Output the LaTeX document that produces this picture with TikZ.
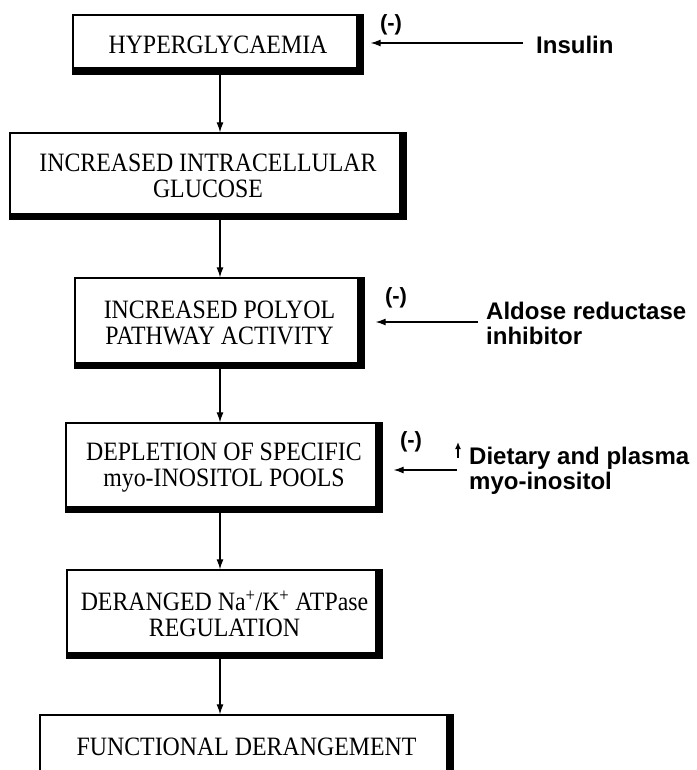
\documentclass[tikz,border=0pt]{standalone}
\usepackage{fontspec}
\setmainfont{Liberation Serif}
\newfontfamily\boxfont{Liberation Serif}[FakeStretch=0.9]
\newfontfamily\labelfont{Liberation Sans}
\usetikzlibrary{arrows.meta}
\begin{document}
\begin{tikzpicture}[x=1pt,y=-1pt,
  flowbox/.style={draw=black, line width=1.3pt, inner sep=0pt, align=center,
    font=\boxfont\fontsize{26.5}{26.5}\selectfont,
    path picture={
      \fill[black] ([xshift=-7pt]path picture bounding box.north east) rectangle (path picture bounding box.south east);
      \fill[black] ([yshift=6.5pt]path picture bounding box.south west) rectangle (path picture bounding box.south east);
    }},
  sidelabel/.style={inner sep=0pt, anchor=west, align=left,
    font=\labelfont\bfseries\fontsize{24}{25}\selectfont},
  minus/.style={inner sep=0pt, font=\labelfont\bfseries\fontsize{22}{24}\selectfont},
  arr/.style={line width=1.2pt, -{Latex[length=10pt,width=7pt]}}
]
\useasboundingbox (0,0) rectangle (696,770);

% main chain boxes
\node[flowbox, minimum width=290pt, minimum height=59pt] (b1) at (218,44.5) {HYPERGLYCAEMIA};
\node[flowbox, minimum width=396pt, minimum height=86pt] (b2) at (208,176) {INCREASED INTRACELLULAR\\GLUCOSE};
\node[flowbox, minimum width=289pt, minimum height=90pt] (b3) at (219.5,323) {INCREASED POLYOL\\PATHWAY ACTIVITY};
\node[flowbox, minimum width=316pt, minimum height=89pt] (b4) at (224,467.5) {DEPLETION OF SPECIFIC\\myo-INOSITOL POOLS};
\node[flowbox, minimum width=315pt, minimum height=88pt] (b5) at (224.5,614) {DERANGED Na\textsuperscript{+}/K\textsuperscript{+} ATPase\\REGULATION};
\node[flowbox, minimum width=413pt, minimum height=64pt] (b6) at (246.5,747) {FUNCTIONAL DERANGEMENT};

% spine of vertical arrows
\coordinate (spine) at (220,0);
\draw[arr] (b1.south -| spine) -- (b2.north -| spine);
\draw[arr] (b2.south -| spine) -- (b3.north -| spine);
\draw[arr] (b3.south -| spine) -- (b4.north -| spine);
\draw[arr] (b4.south -| spine) -- (b5.north -| spine);
\draw[arr] (b5.south -| spine) -- (b6.north -| spine);

% side inputs
\node[minus] (m1) at (391,25) {(-)};
\node[minus] (m2) at (396,298) {(-)};
\node[minus] (m3) at (411,442) {(-)};

\node[sidelabel] (ins) at (536,45) {Insulin};
\node[sidelabel] (ari) at (486,323) {Aldose reductase\\inhibitor};
\node[sidelabel] (myo) at (469,471) {Dietary and plasma\\myo-inositol};

\coordinate (insA) at (523,43);
\coordinate (ariA) at (478,322);
\coordinate (myoA) at (457,470);
\draw[arr, shorten >=7pt] (insA) -- (b1.east |- insA);
\draw[arr, shorten >=11pt] (ariA) -- (b3.east |- ariA);
\draw[arr, shorten >=11pt] (myoA) -- (b4.east |- myoA);

% small up arrow (increase)
\coordinate (upA) at (458,458);
\coordinate (upB) at (458,442);
\draw[line width=1.4pt, -{Latex[length=7pt,width=6pt]}] (upA) -- (upB);
\end{tikzpicture}
\end{document}
